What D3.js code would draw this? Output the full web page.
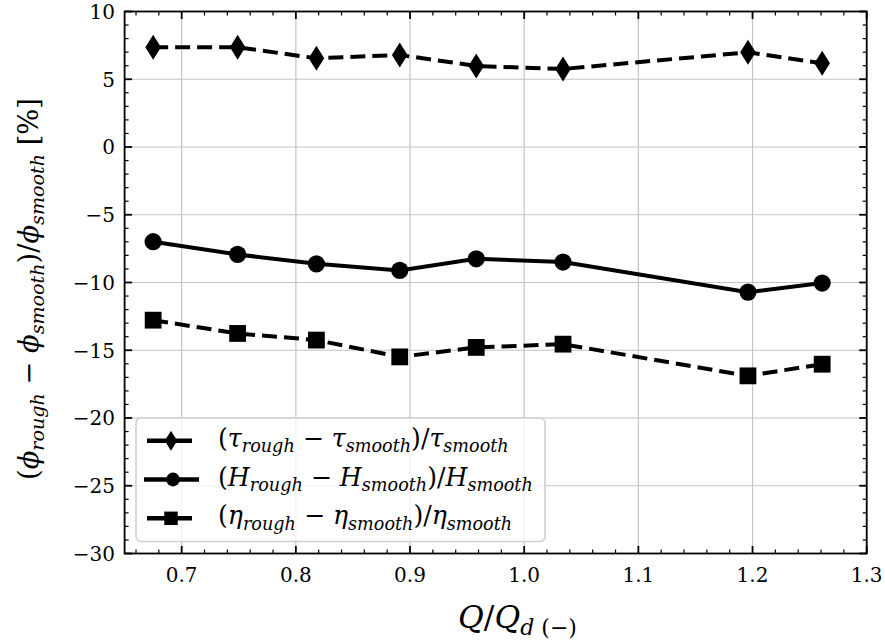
<!DOCTYPE html>
<html>
<head>
<meta charset="utf-8">
<script src="https://cdn.jsdelivr.net/npm/d3@7"></script>
<style>
  html, body { margin: 0; padding: 0; background: #fff; }
  svg { display: block; }
</style>
</head>
<body>
<svg id="chart" width="885" height="644"></svg>
<script>
// ---- data ----
const qRatio   = [0.675, 0.749, 0.818, 0.891, 0.958, 1.034, 1.196, 1.261];
const tauDiff  = [7.36, 7.36, 6.55, 6.79, 5.98, 5.76, 6.99, 6.18];
const headDiff = [-6.99, -7.93, -8.62, -9.11, -8.25, -8.49, -10.71, -10.04];
const effDiff  = [-12.78, -13.76, -14.25, -15.49, -14.79, -14.55, -16.89, -16.03];
const xTicks = [0.7, 0.8, 0.9, 1.0, 1.1, 1.2, 1.3];
const yTicks = [-30, -25, -20, -15, -10, -5, 0, 5, 10];

const svg = d3.select("#chart");
const L = 124.6, R = 866.7, T = 11.5, B = 553.5;
const x = d3.scaleLinear().domain([0.65, 1.3]).range([L, R]);
const y = d3.scaleLinear().domain([-30, 10]).range([B, T]);
const FONT = "'DejaVu Serif', 'Liberation Serif', serif";

// grid
const g = svg.append("g");
g.selectAll(".gx").data(xTicks).enter().append("line")
  .attr("x1", d => x(d)).attr("x2", d => x(d)).attr("y1", T).attr("y2", B)
  .attr("stroke", "#c4c4c4").attr("stroke-width", 1.2);
g.selectAll(".gy").data(yTicks).enter().append("line")
  .attr("y1", d => y(d)).attr("y2", d => y(d)).attr("x1", L).attr("x2", R)
  .attr("stroke", "#c4c4c4").attr("stroke-width", 1.2);

const line = d3.line().x(d => x(d[0])).y(d => y(d[1]));
const zipped = vals => qRatio.map((q, i) => [q, vals[i]]);
const series = [
  {vals: tauDiff, dash: "15,7", marker: "diamond"},
  {vals: headDiff, dash: null, marker: "circle"},
  {vals: effDiff, dash: "15,7", marker: "square"}
];

function drawMarker(sel, type, cx, cy, scale) {
  if (type === "diamond") {
    const w = 7.8 * scale, h = 12.5 * scale;
    sel.append("path").attr("d", `M${cx},${cy-h}L${cx+w},${cy}L${cx},${cy+h}L${cx-w},${cy}Z`).attr("fill", "#000");
  } else if (type === "circle") {
    sel.append("circle").attr("cx", cx).attr("cy", cy).attr("r", 8.6 * scale).attr("fill", "#000");
  } else {
    const s = 8.4 * scale;
    sel.append("rect").attr("x", cx - s).attr("y", cy - s).attr("width", 2*s).attr("height", 2*s).attr("fill", "#000");
  }
}

series.forEach(s => {
  const p = svg.append("path").datum(zipped(s.vals)).attr("d", line)
    .attr("fill", "none").attr("stroke", "#000").attr("stroke-width", 4);
  if (s.dash) p.attr("stroke-dasharray", s.dash);
  const mg = svg.append("g");
  zipped(s.vals).forEach(d => drawMarker(mg, s.marker, x(d[0]), y(d[1]), 1));
});

// math text helper
function mathText(parent, xPos, yPos, parts, size, anchor) {
  const t = parent.append("text").attr("x", xPos).attr("y", yPos)
    .attr("font-family", FONT).attr("fill", "#000");
  if (anchor) t.attr("text-anchor", anchor);
  t.attr("font-size", size);
  let inSub = false;
  parts.forEach(([txt, st]) => {
    const sp = t.append("tspan").text(txt);
    const sub = st.startsWith("s");
    const it = st.endsWith("i");
    sp.attr("font-style", it ? "italic" : "normal");
    sp.attr("font-size", sub ? size * 0.7 : size);
    if (sub && !inSub) sp.attr("dy", size * 0.22);
    if (!sub && inSub) sp.attr("dy", -size * 0.22);
    inSub = sub;
  });
  return t;
}
// build math text fitted to a target width
function fitMath(parent, xPos, yPos, parts, target, anchor, baseSize) {
  const probe = mathText(parent, xPos, yPos, parts, 20, anchor);
  const w = probe.node().getComputedTextLength();
  probe.remove();
  const size = baseSize || 20 * target / w;
  return {node: mathText(parent, xPos, yPos, parts, size, anchor), size};
}

// legend
const lg = svg.append("g");
lg.append("rect").attr("x", 136).attr("y", 418).attr("width", 409).attr("height", 123.5)
  .attr("rx", 5).attr("fill", "#fff").attr("fill-opacity", 0.8)
  .attr("stroke", "#d0d0d0").attr("stroke-width", 1.6);
const legendRows = [
  {cy: 479.5, marker: "circle", x1: 144, x2: 199, parts: [["(", "r"], ["H", "i"], ["rough", "si"], [" − ", "r"], ["H", "i"], ["smooth", "si"], [")/", "r"], ["H", "i"], ["smooth", "si"]]},
  {cy: 440.7, marker: "diamond", x1: 147, x2: 192, parts: [["(", "r"], ["τ", "i"], ["rough", "si"], [" − ", "r"], ["τ", "i"], ["smooth", "si"], [")/", "r"], ["τ", "i"], ["smooth", "si"]]},
  {cy: 518.3, marker: "square", x1: 147, x2: 192, parts: [["(", "r"], ["η", "i"], ["rough", "si"], [" − ", "r"], ["η", "i"], ["smooth", "si"], [")/", "r"], ["η", "i"], ["smooth", "si"]]}
];
let legendSize = null;
legendRows.forEach(r => {
  lg.append("line").attr("x1", r.x1).attr("x2", r.x2).attr("y1", r.cy).attr("y2", r.cy)
    .attr("stroke", "#000").attr("stroke-width", 4.5);
  drawMarker(lg, r.marker, (r.x1 + r.x2) / 2 + 1.5, r.cy, 0.8);
  const res = fitMath(lg, 218, r.cy + 6, r.parts, 315, null, legendSize);
  legendSize = res.size;
});

// spines
svg.append("rect").attr("x", L).attr("y", T).attr("width", R - L).attr("height", B - T)
  .attr("fill", "none").attr("stroke", "#000").attr("stroke-width", 1.8);

// ticks (inward, all sides)
const tk = svg.append("g").attr("stroke", "#000");
const xMinor = d3.range(0.66, 1.3001, 0.02).filter(v => !xTicks.some(t => Math.abs(t - v) < 1e-6));
const yMinor = d3.range(-30, 10.001, 1).filter(v => !yTicks.includes(v));
xTicks.forEach(v => {
  tk.append("line").attr("x1", x(v)).attr("x2", x(v)).attr("y1", B).attr("y2", B - 7.5).attr("stroke-width", 1.8);
  tk.append("line").attr("x1", x(v)).attr("x2", x(v)).attr("y1", T).attr("y2", T + 7.5).attr("stroke-width", 1.8);
});
xMinor.forEach(v => {
  tk.append("line").attr("x1", x(v)).attr("x2", x(v)).attr("y1", B).attr("y2", B - 4).attr("stroke-width", 1.2);
  tk.append("line").attr("x1", x(v)).attr("x2", x(v)).attr("y1", T).attr("y2", T + 4).attr("stroke-width", 1.2);
});
yTicks.forEach(v => {
  tk.append("line").attr("y1", y(v)).attr("y2", y(v)).attr("x1", L).attr("x2", L + 7.5).attr("stroke-width", 1.8);
  tk.append("line").attr("y1", y(v)).attr("y2", y(v)).attr("x1", R).attr("x2", R - 7.5).attr("stroke-width", 1.8);
});
yMinor.forEach(v => {
  tk.append("line").attr("y1", y(v)).attr("y2", y(v)).attr("x1", L).attr("x2", L + 4).attr("stroke-width", 1.2);
  tk.append("line").attr("y1", y(v)).attr("y2", y(v)).attr("x1", R).attr("x2", R - 4).attr("stroke-width", 1.2);
});

// tick labels
svg.append("g").selectAll("text").data(xTicks).enter().append("text")
  .attr("x", d => x(d)).attr("y", 582).attr("text-anchor", "middle")
  .attr("font-family", FONT).attr("font-size", 20).text(d => d.toFixed(1));
svg.append("g").selectAll("text").data(yTicks).enter().append("text")
  .attr("x", 115).attr("y", d => y(d) + 7.3).attr("text-anchor", "end")
  .attr("font-family", FONT).attr("font-size", 20).text(d => d < 0 ? "−" + Math.abs(d) : String(d));

// axis labels
fitMath(svg, 458, 628, [["Q", "i"], ["/", "r"], ["Q", "i"], ["d", "si"], [" (−)", "sr"]], 119);
const ylab = fitMath(svg, 0, 0, [["(", "r"], ["ϕ", "i"], ["rough", "si"], [" − ", "r"], ["ϕ", "i"], ["smooth", "si"], [")/", "r"], ["ϕ", "i"], ["smooth", "si"], [" [%]", "r"]], 382, "middle");
ylab.node.attr("transform", "translate(38,289) rotate(-90)");
</script>
</body>
</html>
